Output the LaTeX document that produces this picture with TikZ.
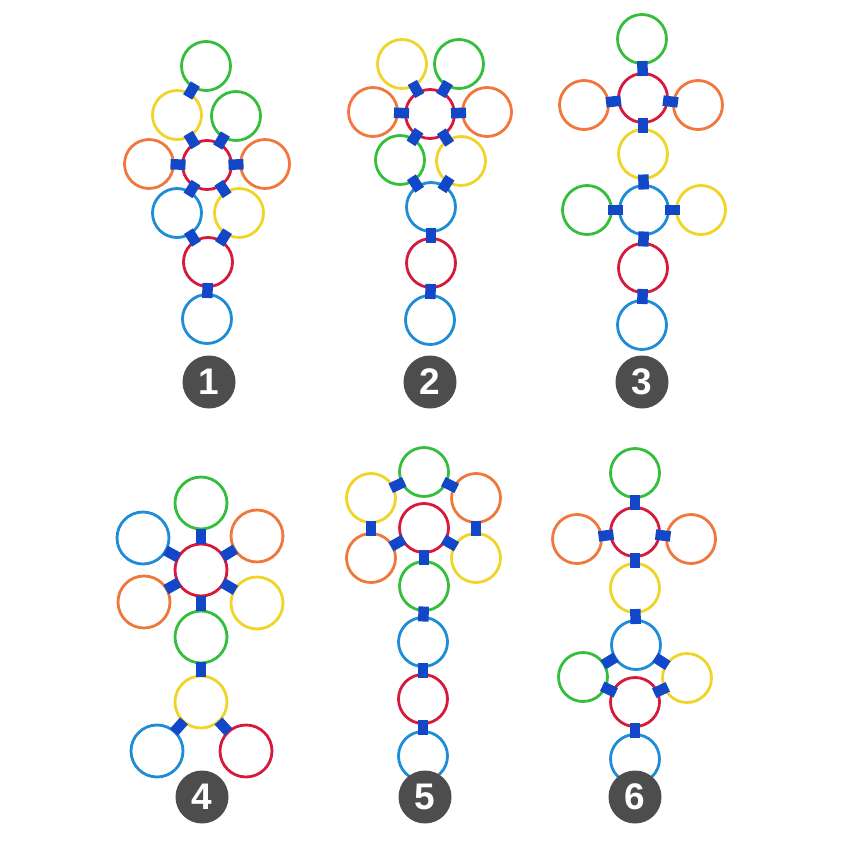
\documentclass[tikz,border=0pt]{standalone}
\usepackage{fontspec}
\setmainfont{Liberation Sans}
\usetikzlibrary{calc}
\definecolor{rgreen}{RGB}{52,190,60}
\definecolor{ryellow}{RGB}{240,212,40}
\definecolor{rorange}{RGB}{240,120,60}
\definecolor{rred}{RGB}{215,25,60}
\definecolor{rblue}{RGB}{30,140,215}
\definecolor{cblue}{RGB}{18,72,200}
\definecolor{badgegray}{RGB}{77,77,77}
\newcommand\conn[2]{\path let \p1=($(#2)-(#1)$), \n1={atan2(\y1,\x1)} in
  node[connector, rotate=\n1] at ($(#1)!0.5!(#2)$) {};}
\tikzset{
  ring/.style={circle, draw=#1, line width=2.8pt, minimum size=49pt, inner sep=0pt},
  bigring/.style={circle, draw=#1, line width=2.8pt, minimum size=52pt, inner sep=0pt},
  connector/.style={rectangle, fill=cblue, minimum width=15pt, minimum height=10.5pt, inner sep=0pt, outer sep=0pt},
  badge/.style={circle, fill=badgegray, minimum size=53pt, inner sep=0pt, text=white,
    font=\fontsize{37}{37}\selectfont\bfseries}
}
\begin{document}
\begin{tikzpicture}[x=1pt,y=-1pt]
\fill[white] (0,0) rectangle (850,850);
\useasboundingbox (0,0) rectangle (850,850);
% ---------- 1 ----------
\node[ring=rgreen] (a1) at (206,66) {};
\node[ring=ryellow] (a2) at (177,115) {};
\node[ring=rgreen] (a3) at (236,116) {};
\node[ring=rorange] (a4) at (149,164) {};
\node[ring=rred] (a5) at (207,165) {};
\node[ring=rorange] (a6) at (265,164) {};
\node[ring=rblue] (a7) at (177,213) {};
\node[ring=ryellow] (a8) at (239,213) {};
\node[ring=rred] (a9) at (208,262) {};
\node[ring=rblue] (a10) at (207,319) {};
\conn{a1}{a2}\conn{a2}{a5}\conn{a3}{a5}\conn{a4}{a5}\conn{a6}{a5}
\conn{a5}{a7}\conn{a5}{a8}\conn{a7}{a9}\conn{a8}{a9}\conn{a9}{a10}
\node[badge] (n1) at (209,382) {1};
% ---------- 2 ----------
\node[ring=ryellow] (b1) at (402,64) {};
\node[ring=rgreen] (b2) at (459,64) {};
\node[ring=rorange] (b3) at (373,112) {};
\node[ring=rred] (b4) at (430,114) {};
\node[ring=rorange] (b5) at (487,112) {};
\node[ring=rgreen] (b6) at (400,160) {};
\node[ring=ryellow] (b7) at (461,161) {};
\node[ring=rblue] (b8) at (431,207) {};
\node[ring=rred] (b9) at (431,263) {};
\node[ring=rblue] (b10) at (430,320) {};
\conn{b1}{b4}\conn{b2}{b4}\conn{b3}{b4}\conn{b5}{b4}\conn{b6}{b4}\conn{b7}{b4}
\conn{b6}{b8}\conn{b7}{b8}\conn{b8}{b9}\conn{b9}{b10}
\node[badge] (n2) at (430,382) {2};
% ---------- 3 ----------
\node[ring=rgreen] (c1) at (642,39) {};
\node[ring=rred] (c2) at (643,98) {};
\node[ring=rorange] (c3) at (584,105) {};
\node[ring=rorange] (c4) at (698,105) {};
\node[ring=ryellow] (c5) at (643,154) {};
\node[ring=rblue] (c6) at (644,210) {};
\node[ring=rgreen] (c7) at (587,210) {};
\node[ring=ryellow] (c8) at (701,210) {};
\node[ring=rred] (c9) at (643,268) {};
\node[ring=rblue] (c10) at (642,325) {};
\conn{c1}{c2}\conn{c3}{c2}\conn{c4}{c2}\conn{c2}{c5}\conn{c5}{c6}
\conn{c7}{c6}\conn{c8}{c6}\conn{c6}{c9}\conn{c9}{c10}
\node[badge] (n3) at (642,382) {3};
% ---------- 4 ----------
\node[bigring=rgreen] (d1) at (201,503) {};
\node[bigring=rblue] (d2) at (143,538) {};
\node[bigring=rorange] (d3) at (257,536) {};
\node[bigring=rred] (d4) at (201,570) {};
\node[bigring=rorange] (d5) at (144,602) {};
\node[bigring=ryellow] (d6) at (257,603) {};
\node[bigring=rgreen] (d7) at (201,637) {};
\node[bigring=ryellow] (d8) at (201,702) {};
\node[bigring=rblue] (d9) at (157,751) {};
\node[bigring=rred] (d10) at (246,751) {};
\conn{d1}{d4}\conn{d2}{d4}\conn{d3}{d4}\conn{d5}{d4}\conn{d6}{d4}
\conn{d4}{d7}\conn{d7}{d8}\conn{d8}{d9}\conn{d8}{d10}
\node[badge] (n4) at (202,797) {4};
% ---------- 5 ----------
\node[ring=rgreen] (e1) at (424,472) {};
\node[ring=ryellow] (e2) at (371,498) {};
\node[ring=rorange] (e3) at (476,498) {};
\node[ring=rred] (e4) at (424,528) {};
\node[ring=rorange] (e5) at (371,558) {};
\node[ring=ryellow] (e6) at (476,558) {};
\node[ring=rgreen] (e7) at (424,586) {};
\node[ring=rblue] (e8) at (423,642) {};
\node[ring=rred] (e9) at (423,699) {};
\node[ring=rblue] (e10) at (423,756) {};
\conn{e1}{e2}\conn{e1}{e3}\conn{e2}{e5}\conn{e3}{e6}\conn{e4}{e5}\conn{e4}{e6}
\conn{e4}{e7}\conn{e7}{e8}\conn{e8}{e9}\conn{e9}{e10}
\node[badge] (n5) at (425,797) {5};
% ---------- 6 ----------
\node[ring=rgreen] (f1) at (635,473) {};
\node[ring=rred] (f2) at (635,532) {};
\node[ring=rorange] (f3) at (577,539) {};
\node[ring=rorange] (f4) at (691,539) {};
\node[ring=ryellow] (f5) at (635,588) {};
\node[ring=rblue] (f6) at (636,645) {};
\node[ring=rgreen] (f7) at (583,677) {};
\node[ring=ryellow] (f8) at (687,678) {};
\node[ring=rred] (f9) at (635,702) {};
\node[ring=rblue] (f10) at (635,759) {};
\conn{f1}{f2}\conn{f3}{f2}\conn{f4}{f2}\conn{f2}{f5}\conn{f5}{f6}
\conn{f6}{f7}\conn{f6}{f8}\conn{f7}{f9}\conn{f8}{f9}\conn{f9}{f10}
\node[badge] (n6) at (635,797) {6};
\end{tikzpicture}
\end{document}
